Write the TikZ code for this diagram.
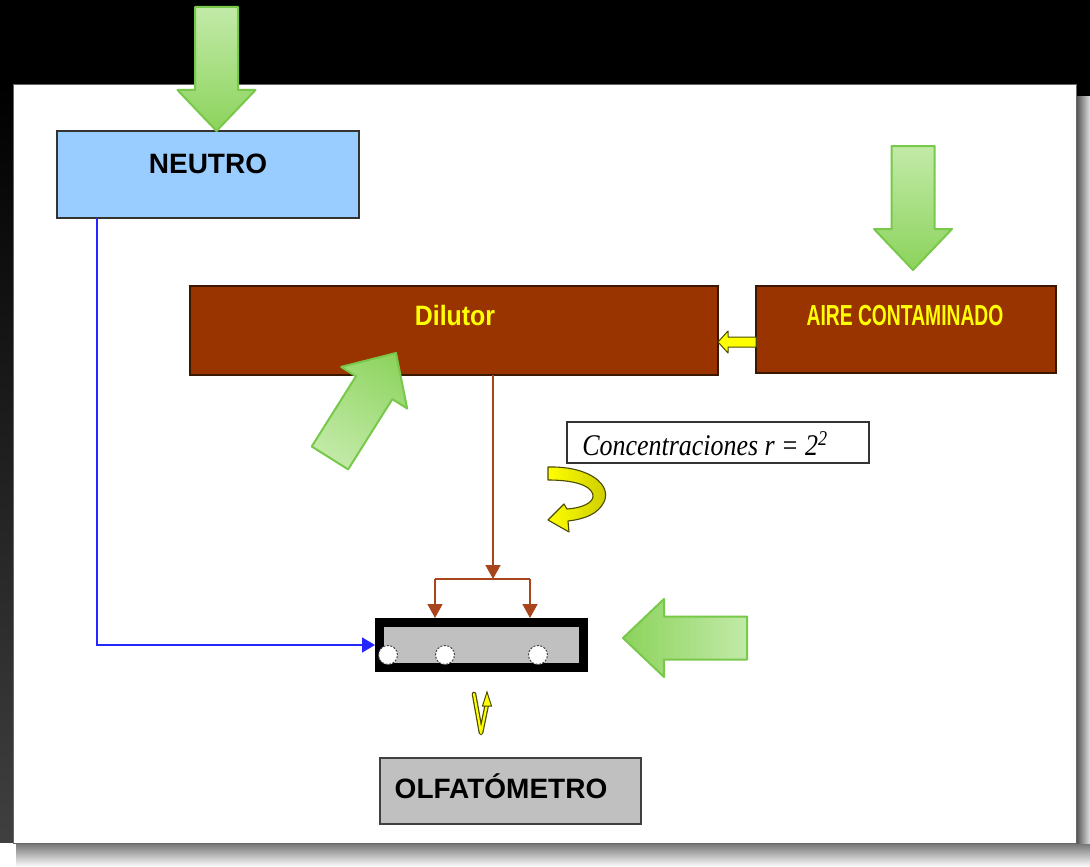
\documentclass[tikz,border=0pt]{standalone}
\usepackage{fontspec}
\setmainfont{Liberation Serif}
\setsansfont{Liberation Sans}
\usepackage{graphicx}
\usetikzlibrary{arrows.meta}

\definecolor{neutroblue}{HTML}{99CCFF}
\definecolor{rust}{HTML}{993300}
\definecolor{rustedge}{HTML}{3A1800}
\definecolor{rustline}{HTML}{A8451C}
\definecolor{greenlight}{HTML}{C2EAA8}
\definecolor{greenmid}{HTML}{8CD35C}
\definecolor{greenedge}{HTML}{78C84A}
\definecolor{linkblue}{HTML}{2626FF}
\definecolor{sunyellow}{HTML}{FFFF00}
\definecolor{olive}{HTML}{4A4A00}
\definecolor{panelgray}{HTML}{C0C0C0}

\newcommand\boxfont{\sffamily\bfseries\fontsize{28}{30}\selectfont}

% green block arrow: tip at (#1,#2), pointing at angle #3
\newcommand\greenarrow[3]{%
  \begin{scope}[transform canvas={shift={(#1,#2)},rotate=#3}]
    \shade[top color=greenlight, bottom color=greenmid, shading angle=90,
           draw=greenedge, line width=2, line join=round]
      (0,0) -- (-41,-39) -- (-41,-21.5) -- (-124,-21.5) -- (-124,21.5)
      -- (-41,21.5) -- (-41,39) -- cycle;
  \end{scope}}

\tikzset{
  block/.style={draw, line width=1.5, inner sep=0, outer sep=0},
  lbl/.style={inner sep=0, anchor=base},
  bluelink/.style={draw=linkblue, line width=1.6, -{Triangle[length=13,width=15]}},
  brownlink/.style={draw=rustline, line width=1.6, -{Triangle[length=14,width=15]}},
  hole/.style={circle, draw=black!75, dash pattern=on 2pt off 1.5pt, fill=white,
               minimum size=19, inner sep=0, line width=1},
}

\begin{document}
\begin{tikzpicture}[x=1pt, y=-1pt]
\useasboundingbox (0,0) rectangle (1090,867);

% frame and shadows
\fill[black] (0,0) rectangle (1090,867);
\shade[top color=black, bottom color=black!75] (0,85) rectangle (13,843);
\fill[white] (0,843) rectangle (16,867);
\shade[top color=black!55, bottom color=white] (16,843) rectangle (1090,867);
\shade[left color=black!65, right color=black!12] (1077,96) rectangle (1090,843);
\filldraw[fill=white, draw=black!60, line width=1] (13,85) rectangle (1076,843);

% boxes
\node[block, fill=neutroblue, draw=black!80, minimum width=302, minimum height=87] (neutro) at (208,174.5) {};
\node[lbl] (neutrotxt) at (208,173) {\boxfont NEUTRO};

\node[block, fill=rust, draw=rustedge, minimum width=528, minimum height=89] (dilutor) at (454,330.5) {};
\node[lbl, text=sunyellow] (dilutortxt) at (455,325) {\scalebox{0.89}[1]{\boxfont Dilutor}};

\node[block, fill=rust, draw=rustedge, minimum width=300, minimum height=87] (aire) at (906,329.5) {};
\node[lbl, text=sunyellow] (airetxt) at (905,325) {\scalebox{0.665}[1]{\sffamily\bfseries\fontsize{29}{30}\selectfont AIRE CONTAMINADO}};

\node[block, fill=white, draw=black!80, line width=1.2, minimum width=302, minimum height=41] (conc) at (718,442.5) {};
\node[lbl] (conctxt) at (705,455) {\scalebox{0.865}[1]{\fontsize{30}{32}\selectfont\itshape Concentraciones r = 2\textsuperscript{2}}};

\node[draw=black, line width=9, fill=panelgray, minimum width=204, minimum height=45, inner sep=0] (rack) at (481.5,645) {};
\node[hole] (h1) at (388,655) {};
\node[hole] (h2) at (445,655) {};
\node[hole] (h3) at (538,655) {};

\node[block, fill=panelgray, draw=black!75, minimum width=261, minimum height=66] (olfato) at (510.5,791) {};
\node[lbl] (olfatotxt) at (501,798) {\boxfont OLFATÓMETRO};

% neutral gas line
\coordinate (nbend) at (97,645);
\draw[bluelink] (neutro.south -| nbend) -- (nbend) -- (rack.west);

% diluted sample split into the rack
\coordinate (split) at (493,579);
\coordinate (feedL) at (435,579);
\coordinate (feedR) at (530,579);
\draw[brownlink] (dilutor.south -| split) -- (split);
\draw[draw=rustline, line width=1.6] (feedL) -- (feedR);
\draw[brownlink] (feedL) -- (feedL |- rack.north);
\draw[brownlink] (feedR) -- (feedR |- rack.north);

% contaminated air into the dilutor
\path (dilutor.east) ++(0,11.5) coordinate (feedtip);
\filldraw[fill=sunyellow, draw=olive, line width=1, line join=round]
  (feedtip) -- ++(10,-11) -- ++(0,6) -- (aire.west |- 0,337) -- (aire.west |- 0,347)
  -- ++(-28,0) -- ++(0,6) -- cycle;

% curved turn arrow
\shade[left color=sunyellow, right color=sunyellow!70!olive, draw=olive, line width=1.1, line join=round]
  (548,467) .. controls (590,466) and (612,485) .. (604,502)
  .. controls (598,514) and (585,519) .. (568,521)
  -- (569,532) -- (548,520) -- (564,504) -- (567,509)
  .. controls (582,508) and (592,503) .. (593,497)
  .. controls (594,488) and (580,480) .. (548,480) -- cycle;

% small return arrow above the olfactometer
\draw[line width=4.6, draw=olive, line cap=round, line join=round] (474,694) -- (481,733) -- (487,704);
\draw[line width=2.2, draw=sunyellow, line cap=round, line join=round] (474,694) -- (481,733) -- (487,704);
\filldraw[fill=sunyellow, draw=olive, line width=1] (487,692) -- (491.5,706) -- (482.5,706) -- cycle;

% green block arrows
\greenarrow{216.5}{131}{-90}
\greenarrow{913}{270}{-90}
\greenarrow{623}{638}{180}
\greenarrow{396}{353}{57.8}
\end{tikzpicture}
\end{document}
